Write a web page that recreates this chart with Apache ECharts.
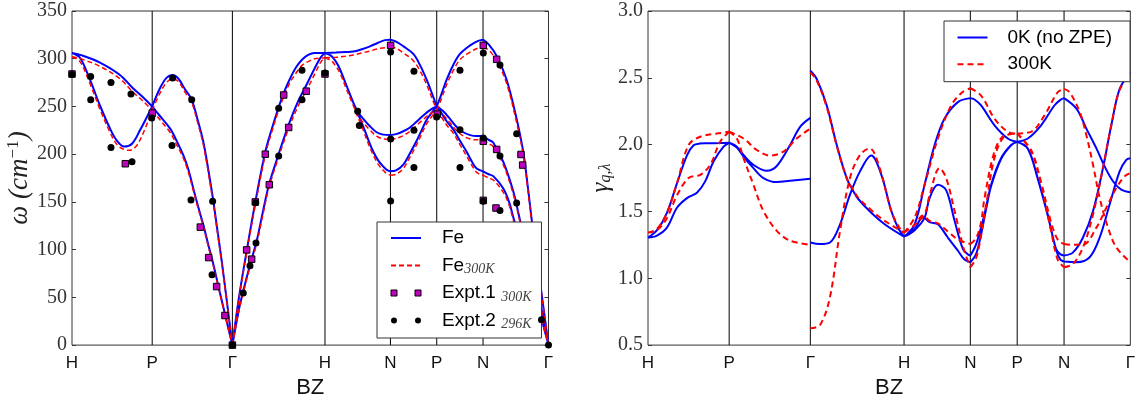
<!DOCTYPE html>
<html>
<head>
<meta charset="utf-8">
<script src="https://cdn.jsdelivr.net/npm/echarts@6/dist/echarts.min.js"></script>
<style>
html,body{margin:0;padding:0;background:#fff;}
#c{width:1138px;height:404px;}
</style>
</head>
<body>
<div id="c"></div>
<script>
// ---------- high-symmetry path (BCC) ----------
const Q_TICKS = [0, 0.866, 1.732, 2.732, 3.439, 3.939, 4.439, 5.146];
const Q_LABELS = ['H', 'P', 'Γ', 'H', 'N', 'P', 'N', 'Γ'];
const W_RANGE = [0, 350, 50];      // omega axis min, max, step
const G_RANGE = [0.5, 3.0, 0.5];   // gamma axis min, max, step

// ---------- left panel: phonon dispersion, Fe (0 K) ----------
const fe_HP = [
  [[0,306],[0.108,303.5],[0.302,296],[0.518,283],[0.659,269],[0.767,259.6],[0.866,250]],
  [[0,306],[0.086,301],[0.194,278],[0.302,251],[0.41,227],[0.486,214],[0.562,208],[0.648,211],[0.734,225],[0.866,250]]
];
const fe_PG = [
  [[0.866,250],[0.95,269],[1.02,280],[1.087,283],[1.15,279],[1.22,268],[1.293,257],[1.36,235],[1.418,213],[1.47,185],[1.526,151],[1.575,117],[1.617,88],[1.675,44],[1.732,0]],
  [[0.866,250],[0.95,240],[1.058,227],[1.13,214],[1.202,199],[1.26,183],[1.31,164],[1.36,146],[1.418,126],[1.47,106],[1.526,85],[1.58,62],[1.634,40],[1.685,19],[1.732,0]]
];
const fe_GH = [
  [[1.732,0],[1.80,48],[1.887,99],[1.98,150],[2.084,201],[2.15,224],[2.228,248],[2.29,265],[2.354,279],[2.42,291],[2.484,299],[2.55,304],[2.62,306],[2.732,306]],
  [[1.732,0],[1.80,36],[1.85,57],[1.922,84],[1.994,109],[2.06,139],[2.127,168],[2.228,199],[2.336,230],[2.44,255],[2.534,273],[2.642,294],[2.69,302],[2.732,306]]
];
const fe_HN = [
  [[2.732,306],[2.85,306.5],[2.95,307],[3.038,307.5],[3.13,310],[3.218,313],[3.30,316.5],[3.38,319.5],[3.439,320]],
  [[2.732,306],[2.80,303],[2.85,297],[2.894,289],[2.96,273],[3.038,254],[3.09,244],[3.146,237],[3.22,229],[3.29,223],[3.36,220.5],[3.439,220]],
  [[2.732,306],[2.80,303],[2.85,297],[2.894,289],[2.96,273],[3.038,254],[3.09,242],[3.146,229],[3.20,215],[3.254,202.5],[3.31,193],[3.362,187],[3.40,183.5],[3.439,182]]
];
const fe_NP = [
  [[3.439,320],[3.50,318],[3.58,313],[3.686,305],[3.76,293],[3.83,278],[3.89,263],[3.939,250]],
  [[3.439,220],[3.50,221],[3.578,224],[3.65,228],[3.72,234],[3.794,240.5],[3.87,246.5],[3.939,250]],
  [[3.439,182],[3.50,183],[3.578,189],[3.65,201],[3.722,214],[3.78,226],[3.83,236],[3.89,244],[3.939,250]]
];
const fe_PN = [
  [[3.939,250],[3.99,263],[4.046,278],[4.12,294],[4.19,305],[4.30,314],[4.38,318.5],[4.439,320]],
  [[3.939,250],[4.01,245],[4.082,237],[4.15,229],[4.226,223],[4.30,220],[4.37,219],[4.439,219]],
  [[3.939,250],[3.99,243],[4.05,234],[4.118,226],[4.19,214],[4.262,202.5],[4.32,192],[4.37,185],[4.439,182]]
];
const fe_NG = [
  [[4.439,320],[4.50,315],[4.586,303],[4.694,278],[4.802,237],[4.874,202],[4.93,160],[4.96,135],[5.00,105],[5.06,62],[5.146,0]],
  [[4.439,219],[4.50,215],[4.55,212],[4.658,192],[4.766,161],[4.838,131],[4.90,106],[4.98,76],[5.06,42],[5.146,0]],
  [[4.439,182],[4.50,179],[4.55,177],[4.658,164],[4.72,150],[4.766,134],[4.85,106],[4.94,76],[5.04,39],[5.146,0]]
];

// ---------- left panel: Fe at 300 K ----------
const fe300_HP = [
  [[0,302],[0.108,299.5],[0.302,292],[0.518,279],[0.659,265],[0.767,255.6],[0.866,246]],
  [[0,302],[0.086,297],[0.194,274],[0.302,247],[0.41,223],[0.486,210],[0.562,205],[0.62,204],[0.69,208],[0.76,220],[0.866,246]]
];
const fe300_PG = [
  [[0.866,246],[0.95,264],[1.02,275],[1.087,279],[1.15,276],[1.22,265],[1.293,254],[1.36,232],[1.418,210],[1.47,182],[1.526,148],[1.575,115],[1.617,86],[1.675,43],[1.732,0]],
  [[0.866,246],[0.95,236],[1.058,223],[1.13,210],[1.202,196],[1.26,180],[1.31,162],[1.36,144],[1.418,124],[1.47,104],[1.526,83],[1.58,61],[1.634,39],[1.685,18],[1.732,0]]
];
const fe300_GH = [
  [[1.732,0],[1.80,47],[1.887,97],[1.98,147],[2.084,198],[2.15,221],[2.228,245],[2.29,261],[2.354,275],[2.42,285],[2.484,293],[2.55,297],[2.62,300],[2.732,301]],
  [[1.732,0],[1.80,35],[1.85,55],[1.922,82],[1.994,106],[2.06,136],[2.127,165],[2.228,196],[2.336,226],[2.44,250],[2.534,267],[2.642,288],[2.69,297],[2.732,301]]
];
const fe300_HN = [
  [[2.732,301],[2.85,301.5],[2.95,302.5],[3.038,304],[3.13,306],[3.218,308],[3.33,311],[3.439,312]],
  [[2.732,301],[2.80,298],[2.85,292],[2.894,285],[2.96,269],[3.038,251],[3.09,240],[3.146,233],[3.22,225],[3.29,219],[3.36,216],[3.439,215.5]],
  [[2.732,301],[2.80,298],[2.85,292],[2.894,285],[2.96,269],[3.038,251],[3.09,238],[3.146,225],[3.20,211],[3.254,199],[3.31,189],[3.362,183],[3.40,179.5],[3.439,178]]
];
const fe300_NP = [
  [[3.439,312],[3.50,311],[3.58,306],[3.686,298],[3.76,287],[3.83,273],[3.89,258],[3.939,246]],
  [[3.439,215.5],[3.50,216.5],[3.578,219.5],[3.65,224],[3.72,230],[3.794,236.5],[3.87,242.5],[3.939,246]],
  [[3.439,178],[3.50,179],[3.578,185],[3.65,197],[3.722,210],[3.78,222],[3.83,232],[3.89,240],[3.939,246]]
];
const fe300_PN = [
  [[3.939,246],[3.99,258],[4.046,273],[4.12,288],[4.19,299],[4.30,307],[4.38,311],[4.439,312]],
  [[3.939,246],[4.01,241],[4.082,233],[4.15,225],[4.226,219],[4.30,216],[4.37,215],[4.439,215]],
  [[3.939,246],[3.99,239],[4.05,230],[4.118,222],[4.19,210],[4.262,198],[4.32,188],[4.37,181],[4.439,178]]
];
const fe300_NG = [
  [[4.439,312],[4.50,309],[4.586,298],[4.694,274],[4.802,233],[4.874,199],[4.93,157],[4.96,132],[5.00,103],[5.06,61],[5.146,0]],
  [[4.439,215],[4.50,211],[4.55,208],[4.658,189],[4.766,158],[4.838,129],[4.90,104],[4.98,74],[5.06,41],[5.146,0]],
  [[4.439,178],[4.50,175],[4.55,173],[4.658,160],[4.72,147],[4.766,131],[4.85,104],[4.94,74],[5.04,38],[5.146,0]]
];

// ---------- left panel: experiments ----------
const expt1 = [[0,284],[0.576,190],[0.867,243],[1.386,123.6],[1.476,91.7],[1.562,61.3],[1.652,31],[1.732,0],[1.886,99.7],[1.94,90],[1.98,150],[2.088,200],[2.131,168],[2.286,262],[2.34,228],[2.53,266],[2.732,284],[3.441,314],[3.945,242],[4.442,314],[4.586,299.4],[4.442,213.6],[4.586,205],[4.849,199.7],[4.867,188.6],[4.442,151.6],[4.579,143.6]];
const expt2 = [[0,283.5],[0.202,281.4],[0.202,257],[0.421,275],[0.421,207],[0.637,263],[0.648,192],[0.861,238],[1.08,209],[1.087,279.7],[1.293,257],[1.285,152],[1.519,150.6],[1.512,73.7],[1.732,0],[1.85,54.6],[1.922,83],[1.987,107],[1.984,149],[2.232,198],[2.232,248],[2.484,257],[2.484,288],[2.732,285],[3.085,245],[3.103,230],[3.441,307],[3.441,216],[3.441,151],[3.693,287],[3.693,225],[3.693,186],[3.938,239],[4.19,288],[4.19,225.7],[4.19,186],[4.442,306],[4.442,217],[4.442,150.6],[4.622,293.5],[4.622,198],[4.622,141],[4.802,221.5],[4.802,148.8],[5.07,26.6],[5.146,0]];

// ---------- right panel: Grueneisen parameter, 0 K (no ZPE) ----------
const g0_HP = [
  [[0,1.305],[0.096,1.36],[0.202,1.49],[0.309,1.71],[0.416,1.92],[0.486,1.995],[0.55,2.008],[0.629,2.01],[0.77,2.012],[0.866,2.014]],
  [[0,1.305],[0.096,1.32],[0.202,1.379],[0.309,1.528],[0.416,1.60],[0.522,1.64],[0.61,1.725],[0.699,1.874],[0.806,1.985],[0.866,2.014]]
];
const g0_PG = [
  [[0.866,2.014],[0.948,1.985],[1.019,1.923],[1.125,1.849],[1.268,1.804],[1.374,1.84],[1.516,1.997],[1.623,2.133],[1.732,2.2]],
  [[0.866,2.014],[0.948,1.978],[1.019,1.91],[1.125,1.824],[1.232,1.75],[1.374,1.72],[1.516,1.73],[1.732,1.745]]
];
const g0_GH = [
  [[1.732,2.553],[1.80,2.491],[1.907,2.293],[2.014,1.997],[2.12,1.75],[2.191,1.651],[2.241,1.595],[2.382,1.49],[2.525,1.404],[2.732,1.311]],
  [[1.732,1.268],[1.836,1.256],[1.942,1.268],[2.049,1.404],[2.155,1.626],[2.262,1.80],[2.382,1.918],[2.489,1.775],[2.596,1.503],[2.667,1.379],[2.732,1.311]]
];
const g0_HN = [
  [[2.732,1.311],[2.845,1.404],[2.951,1.70],[3.058,1.997],[3.164,2.195],[3.306,2.318],[3.439,2.348]],
  [[2.732,1.311],[2.845,1.36],[2.951,1.454],[3.004,1.60],[3.093,1.70],[3.181,1.66],[3.271,1.43],[3.359,1.22],[3.41,1.18],[3.439,1.17]],
  [[2.732,1.311],[2.845,1.37],[2.933,1.459],[3.004,1.42],[3.093,1.404],[3.199,1.305],[3.306,1.207],[3.377,1.14],[3.439,1.12]]
];
const g0_NP = [
  [[3.439,2.348],[3.48,2.34],[3.554,2.293],[3.697,2.145],[3.839,2.046],[3.938,2.022]],
  [[3.439,1.17],[3.501,1.256],[3.59,1.478],[3.661,1.70],[3.767,1.898],[3.874,1.997],[3.938,2.022]],
  [[3.439,1.12],[3.50,1.18],[3.554,1.33],[3.608,1.52],[3.661,1.69],[3.767,1.893],[3.874,1.995],[3.938,2.022]]
];
const g0_PN = [
  [[3.938,2.022],[4.052,2.046],[4.194,2.145],[4.336,2.293],[4.40,2.335],[4.439,2.348]],
  [[3.938,2.022],[4.052,1.972],[4.158,1.75],[4.265,1.478],[4.353,1.22],[4.40,1.18],[4.439,1.17]],
  [[3.938,2.022],[4.052,1.97],[4.158,1.745],[4.265,1.47],[4.36,1.20],[4.40,1.14],[4.439,1.125]]
];
const g0_NG = [
  [[4.439,2.348],[4.571,2.269],[4.677,2.12],[4.784,1.972],[4.872,1.837],[4.961,1.726],[5.05,1.663],[5.146,1.644]],
  [[4.439,1.17],[4.535,1.194],[4.641,1.305],[4.748,1.503],[4.854,1.824],[4.943,2.145],[5.032,2.417],[5.146,2.545]],
  [[4.439,1.125],[4.571,1.12],[4.712,1.157],[4.819,1.305],[4.925,1.552],[5.032,1.80],[5.103,1.886],[5.146,1.898]]
];

// ---------- right panel: 300 K ----------
const g300_HP = [
  [[0,1.342],[0.096,1.37],[0.202,1.49],[0.309,1.71],[0.433,1.997],[0.557,2.059],[0.735,2.083],[0.866,2.096]],
  [[0,1.342],[0.096,1.36],[0.202,1.45],[0.309,1.62],[0.433,1.75],[0.557,1.774],[0.664,1.849],[0.77,2.022],[0.866,2.096]]
];
const g300_PG = [
  [[0.866,2.096],[1.019,2.046],[1.161,1.96],[1.303,1.918],[1.445,1.948],[1.587,2.046],[1.732,2.12]],
  [[0.866,2.096],[0.948,2.046],[1.019,1.898],[1.125,1.70],[1.232,1.503],[1.374,1.355],[1.516,1.281],[1.732,1.251]]
];
const g300_GH = [
  [[1.732,2.541],[1.80,2.48],[1.907,2.28],[2.014,1.99],[2.12,1.75],[2.191,1.66],[2.241,1.605],[2.382,1.51],[2.525,1.43],[2.732,1.342]],
  [[1.732,0.626],[1.836,0.651],[1.942,0.861],[2.049,1.355],[2.155,1.75],[2.262,1.923],[2.365,1.972],[2.472,1.824],[2.596,1.503],[2.702,1.355],[2.732,1.342]]
];
const g300_HN = [
  [[2.732,1.342],[2.845,1.454],[2.951,1.70],[3.093,2.046],[3.235,2.293],[3.35,2.39],[3.439,2.422]],
  [[2.732,1.342],[2.845,1.40],[2.951,1.48],[3.004,1.62],[3.111,1.824],[3.181,1.75],[3.271,1.503],[3.377,1.20],[3.439,1.083]],
  [[2.732,1.342],[2.845,1.40],[2.933,1.47],[3.004,1.43],[3.093,1.41],[3.199,1.35],[3.306,1.29],[3.439,1.256]]
];
const g300_NP = [
  [[3.439,2.422],[3.554,2.367],[3.697,2.195],[3.839,2.096],[3.938,2.083]],
  [[3.439,1.083],[3.50,1.15],[3.554,1.32],[3.608,1.55],[3.697,1.90],[3.80,2.06],[3.938,2.083]],
  [[3.439,1.256],[3.50,1.30],[3.554,1.42],[3.59,1.60],[3.697,1.948],[3.803,2.07],[3.938,2.083]]
];
const g300_PN = [
  [[3.938,2.083],[4.087,2.096],[4.23,2.219],[4.371,2.392],[4.439,2.417]],
  [[3.938,2.083],[4.087,1.95],[4.194,1.70],[4.30,1.355],[4.371,1.14],[4.439,1.083]],
  [[3.938,2.083],[4.087,1.96],[4.194,1.72],[4.30,1.42],[4.371,1.29],[4.439,1.256]]
];
const g300_NG = [
  [[4.439,2.417],[4.499,2.392],[4.606,2.244],[4.677,2.071],[4.748,1.849],[4.819,1.602],[4.908,1.379],[4.997,1.231],[5.146,1.12]],
  [[4.439,1.083],[4.535,1.108],[4.641,1.231],[4.748,1.478],[4.854,1.824],[4.943,2.145],[5.032,2.41],[5.146,2.53]],
  [[4.439,1.256],[4.535,1.25],[4.641,1.25],[4.784,1.379],[4.89,1.528],[4.997,1.676],[5.085,1.763],[5.146,1.787]]
];

// ---------- helpers ----------
const GAP = ['-', '-'];
function joinBranches(segments) {
  const out = [];
  segments.forEach(seg => seg.forEach(br => {
    if (out.length) out.push(GAP);
    br.forEach(p => out.push(p));
  }));
  return out;
}
function vlineData(yMin, yMax) {
  const out = [];
  Q_TICKS.slice(1, -1).forEach((q, i) => {
    if (i) out.push(GAP);
    out.push([q, yMin], [q, yMax]);
  });
  return out;
}
function qLabel(v) {
  let best = 0;
  Q_TICKS.forEach((t, i) => { if (Math.abs(t - v) < Math.abs(Q_TICKS[best] - v)) best = i; });
  return Q_LABELS[best];
}

const SANS = 'Liberation Sans';
const SERIF = 'Liberation Serif';
const FRAME = '#333';
const HIDE_SYMBOL = { opacity: 0 };

function xAxisFor(gi) {
  return {
    type: 'value', gridIndex: gi,
    min: Q_TICKS[0], max: Q_TICKS[Q_TICKS.length - 1],
    name: 'BZ', nameLocation: 'middle', nameGap: 31,
    nameTextStyle: { fontFamily: SANS, fontSize: 22, color: '#111' },
    axisLine: { show: false }, axisTick: { show: false }, splitLine: { show: false },
    axisLabel: {
      customValues: Q_TICKS, formatter: v => qLabel(v),
      fontFamily: SANS, fontSize: 17, color: '#111', margin: 10,
      showMinLabel: true, showMaxLabel: true
    }
  };
}
function yAxisFor(gi, range, pos, extra) {
  return Object.assign({
    type: 'value', gridIndex: gi, position: pos,
    min: range[0], max: range[1], interval: range[2],
    axisLine: { show: false },
    axisTick: { show: true, inside: true, length: 4, lineStyle: { color: FRAME, width: 1 } },
    splitLine: { show: false },
    axisLabel: pos === 'left'
      ? { fontFamily: SERIF, fontSize: 20, color: '#333', margin: 5 }
      : { show: false }
  }, extra || {});
}

const blueLine = (w) => ({ color: '#0000ff', width: w, type: 'solid' });
const redLine = (w, d) => ({ color: '#ff0000', width: w, type: d });

const option = {
  animation: false,
  backgroundColor: '#fff',
  textStyle: { fontFamily: SANS },
  grid: [
    { left: 72, top: 11, width: 476.5, height: 337.3, show: true, borderColor: FRAME, borderWidth: 1, backgroundColor: 'transparent' },
    { left: 648, top: 11, width: 483, height: 337.5, show: true, borderColor: FRAME, borderWidth: 1, backgroundColor: 'transparent' }
  ],
  xAxis: [xAxisFor(0), xAxisFor(1)],
  yAxis: [
    yAxisFor(0, W_RANGE, 'left', {
      name: '{i|ω (cm}{s|−1}{i|)}', nameLocation: 'middle', nameGap: 34,
      nameTextStyle: { rich: {
        i: { fontFamily: SERIF, fontStyle: 'italic', fontSize: 27, lineHeight: 30, color: '#222' },
        s: { fontFamily: SERIF, fontSize: 17, lineHeight: 16, color: '#222', verticalAlign: 'top' }
      } }
    }),
    yAxisFor(0, W_RANGE, 'right'),
    yAxisFor(1, G_RANGE, 'left', {
      name: '{g|γ}{s|q,λ}', nameLocation: 'middle', nameGap: 30,
      nameTextStyle: { rich: {
        g: { fontFamily: SERIF, fontStyle: 'italic', fontSize: 25, lineHeight: 26, color: '#222' },
        s: { fontFamily: SERIF, fontStyle: 'italic', fontSize: 16, lineHeight: 10, color: '#222', verticalAlign: 'bottom' }
      } },
      axisLabel: { fontFamily: SERIF, fontSize: 20, color: '#333', margin: 5, formatter: v => v.toFixed(1) }
    }),
    yAxisFor(1, G_RANGE, 'right')
  ],
  legend: [
    {
      orient: 'vertical', left: 377, top: 222,
      padding: [5, 10, 6.5, 13], itemGap: 5.5, itemWidth: 30, itemHeight: 14,
      backgroundColor: '#fff', borderColor: FRAME, borderWidth: 1, borderRadius: 0,
      data: [
        { name: 'Fe', itemStyle: HIDE_SYMBOL },
        { name: 'Fe300K', itemStyle: HIDE_SYMBOL },
        { name: 'Expt.1', icon: 'path://M0,0H6V6H0Z M24,0H30V6H24Z', itemStyle: { color: '#bf00bf', borderColor: '#000', borderWidth: 1 } },
        { name: 'Expt.2', icon: 'path://M0,3A3,3 0 1,0 6,3A3,3 0 1,0 0,3Z M24,3A3,3 0 1,0 30,3A3,3 0 1,0 24,3Z', itemStyle: { color: '#000', borderColor: '#000', borderWidth: 0 } }
      ],
      formatter: n => ({ 'Fe': 'Fe', 'Fe300K': 'Fe{sub|300K}', 'Expt.1': 'Expt.1 {sub|300K}', 'Expt.2': 'Expt.2 {sub|296K}' })[n],
      textStyle: {
        fontFamily: SANS, fontSize: 19, lineHeight: 22, color: '#000', padding: [0, 0, 0, 16],
        rich: { sub: { fontFamily: SERIF, fontStyle: 'italic', fontSize: 14, lineHeight: 10, color: '#444', verticalAlign: 'bottom' } }
      },
      selectedMode: false
    },
    {
      orient: 'vertical', left: 944, top: 21,
      padding: [5.5, 18, 6.5, 12.5], itemGap: 4.7, itemWidth: 30, itemHeight: 14,
      backgroundColor: '#fff', borderColor: FRAME, borderWidth: 1, borderRadius: 0,
      data: [{ name: '0K (no ZPE)', itemStyle: HIDE_SYMBOL }, { name: '300K', itemStyle: HIDE_SYMBOL }],
      textStyle: { fontFamily: SANS, fontSize: 19, lineHeight: 22, color: '#000', padding: [0, 0, 0, 15] },
      selectedMode: false
    }
  ],
  series: [
    { type: 'line', name: 'vl0', xAxisIndex: 0, yAxisIndex: 0, data: vlineData(W_RANGE[0], W_RANGE[1]),
      symbol: 'none', silent: true, z: 1, lineStyle: { color: '#000', width: 1 } },
    { type: 'line', name: 'Fe', xAxisIndex: 0, yAxisIndex: 0, z: 2,
      data: joinBranches([fe_HP, fe_PG, fe_GH, fe_HN, fe_NP, fe_PN, fe_NG]),
      symbol: 'none', smooth: 0.35, connectNulls: false, lineStyle: blueLine(2), itemStyle: { color: '#0000ff' } },
    { type: 'line', name: 'Fe300K', xAxisIndex: 0, yAxisIndex: 0, z: 3,
      data: joinBranches([fe300_HP, fe300_PG, fe300_GH, fe300_HN, fe300_NP, fe300_PN, fe300_NG]),
      symbol: 'none', smooth: 0.35, connectNulls: false, lineStyle: redLine(1.5, [5, 3]), itemStyle: { color: '#ff0000' } },
    { type: 'scatter', name: 'Expt.1', xAxisIndex: 0, yAxisIndex: 0, z: 4, data: expt1,
      symbol: 'rect', symbolSize: 6.5, itemStyle: { color: '#bf00bf', borderColor: '#000', borderWidth: 1, opacity: 1 } },
    { type: 'scatter', name: 'Expt.2', xAxisIndex: 0, yAxisIndex: 0, z: 5, data: expt2,
      symbol: 'circle', symbolSize: 7, itemStyle: { color: '#000', opacity: 1 } },

    { type: 'line', name: 'vl1', xAxisIndex: 1, yAxisIndex: 2, data: vlineData(G_RANGE[0], G_RANGE[1]),
      symbol: 'none', silent: true, z: 1, lineStyle: { color: '#000', width: 1 } },
    { type: 'line', name: '0K (no ZPE)', xAxisIndex: 1, yAxisIndex: 2, z: 2,
      data: joinBranches([g0_HP, g0_PG, g0_GH, g0_HN, g0_NP, g0_PN, g0_NG]),
      symbol: 'none', smooth: 0.35, connectNulls: false, lineStyle: blueLine(2), itemStyle: { color: '#0000ff' } },
    { type: 'line', name: '300K', xAxisIndex: 1, yAxisIndex: 2, z: 3,
      data: joinBranches([g300_HP, g300_PG, g300_GH, g300_HN, g300_NP, g300_PN, g300_NG]),
      symbol: 'none', smooth: 0.35, connectNulls: false, lineStyle: redLine(2, [6, 4]), itemStyle: { color: '#ff0000' } }
  ]
};

const chart = echarts.init(document.getElementById('c'), null, { renderer: 'canvas' });
chart.setOption(option);
</script>
</body>
</html>
